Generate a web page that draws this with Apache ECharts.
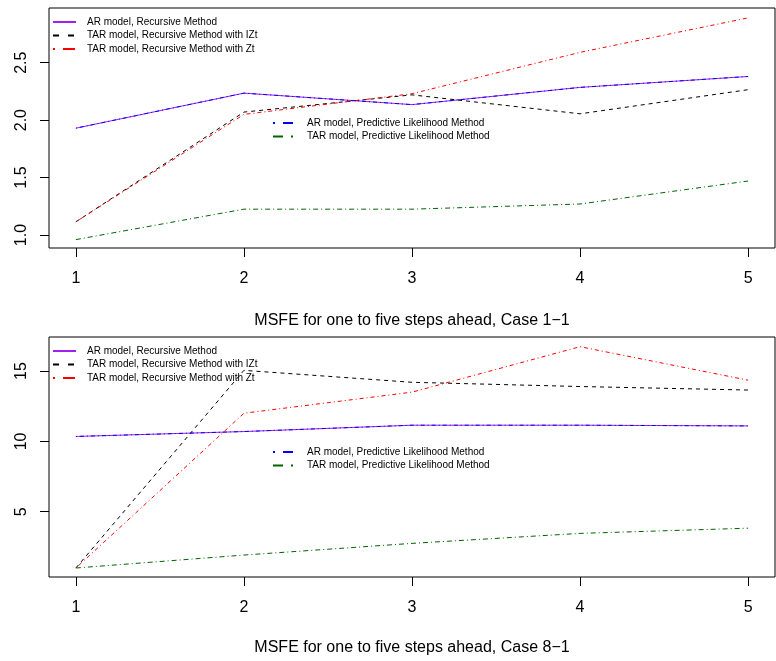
<!DOCTYPE html>
<html>
<head>
<meta charset="utf-8">
<script src="https://cdn.jsdelivr.net/npm/echarts@6/dist/echarts.min.js"></script>
<style>
  html, body { margin: 0; padding: 0; background: #fff; }
  #main { width: 776px; height: 661px; }
</style>
</head>
<body>
<div id="main"></div>
<script>
var FONT = 'Liberation Sans, Arial, sans-serif';

// forecast horizon
var steps = [1, 2, 3, 4, 5];
var stepTicks = [1, 2, 3, 4, 5];

// Case 1-1
var arRec1 = [1.93, 2.235, 2.135, 2.285, 2.38];
var tarIZt1 = [1.115, 2.07, 2.22, 2.055, 2.265];
var tarZt1 = [1.115, 2.05, 2.23, 2.59, 2.89];
var arPred1 = [1.93, 2.235, 2.135, 2.285, 2.38];
var tarPred1 = [0.96, 1.225, 1.225, 1.27, 1.47];
var yTicks1 = [1.0, 1.5, 2.0, 2.5];

// Case 8-1
var arRec2 = [10.35, 10.7, 11.15, 11.15, 11.1];
var tarIZt2 = [1.0, 15.05, 14.2, 13.9, 13.65];
var tarZt2 = [1.0, 12.0, 13.5, 16.73, 14.35];
var arPred2 = [10.35, 10.7, 11.15, 11.15, 11.1];
var tarPred2 = [1.0, 1.92, 2.75, 3.46, 3.83];
var yTicks2 = [5, 10, 15];

var names = [
    'AR model, Recursive Method',
    'TAR model, Recursive Method with IZt',
    'TAR model, Recursive Method with Zt',
    'AR model, Predictive Likelihood Method',
    'TAR model, Predictive Likelihood Method'
];
var colors = ['#A020F0', '#000000', '#FF0000', '#0000FF', '#006400'];
var dashes = ['solid', [4, 4], [1, 3, 4, 3], [1, 3, 4, 3], [5, 3, 1, 3]];
var legendDash = ['solid', [6, 9], [2, 8, 12, 8], [2, 8, 10, 8], [10, 8, 2, 8]];

function pairs(vals) {
    return steps.map(function (s, i) { return [s, vals[i]]; });
}

function makeSeries(idx, sets) {
    return sets.map(function (vals, i) {
        return {
            name: names[i],
            type: 'line',
            xAxisIndex: idx,
            yAxisIndex: idx,
            data: pairs(vals),
            symbol: 'none',
            silent: true,
            lineStyle: { color: colors[i], width: 1, type: dashes[i] },
            itemStyle: { color: colors[i] }
        };
    });
}

function makeLegend(list, left, top) {
    return {
        orient: 'vertical',
        left: left,
        top: top,
        padding: 0,
        itemWidth: 23,
        itemHeight: 10,
        itemGap: 3.5,
        selectedMode: false,
        textStyle: { fontFamily: FONT, fontSize: 10, color: '#000', padding: [0, 0, 0, 6] },
        data: list.map(function (i) {
            return {
                name: names[i],
                itemStyle: { opacity: 0 },
                lineStyle: { color: colors[i], width: 2, type: legendDash[i] }
            };
        })
    };
}

function xAxis(idx) {
    return {
        type: 'value',
        gridIndex: idx,
        min: 0.84,
        max: 5.16,
        splitLine: { show: false },
        axisLine: { show: false },
        axisTick: { show: true, length: 9, customValues: stepTicks, lineStyle: { color: '#000' } },
        axisLabel: { customValues: stepTicks, margin: 23, fontFamily: FONT, fontSize: 16, color: '#000' }
    };
}

function yAxis(idx, min, max, ticks, fmt) {
    return {
        type: 'value',
        gridIndex: idx,
        min: min,
        max: max,
        splitLine: { show: false },
        axisLine: { show: false },
        axisTick: { show: true, length: 9, customValues: ticks, lineStyle: { color: '#000' } },
        axisLabel: {
            customValues: ticks,
            rotate: 90,
            margin: 19,
            fontFamily: FONT,
            fontSize: 16,
            color: '#000',
            formatter: fmt
        }
    };
}

var chart = echarts.init(document.getElementById('main'), null, { renderer: 'canvas' });
chart.setOption({
    backgroundColor: '#fff',
    animation: false,
    grid: [
        { left: 49, top: 8, width: 726, height: 240, show: true, borderColor: '#000', borderWidth: 1 },
        { left: 49, top: 337, width: 726, height: 240, show: true, borderColor: '#000', borderWidth: 1 }
    ],
    title: [
        { text: 'MSFE for one to five steps ahead, Case 1\u22121', left: 412, top: 313, textAlign: 'center',
          textStyle: { fontFamily: FONT, fontSize: 16, fontWeight: 'normal', color: '#000' }, padding: 0 },
        { text: 'MSFE for one to five steps ahead, Case 8\u22121', left: 412, top: 640, textAlign: 'center',
          textStyle: { fontFamily: FONT, fontSize: 16, fontWeight: 'normal', color: '#000' }, padding: 0 }
    ],
    legend: [
        makeLegend([0, 1, 2], 52, 17),
        makeLegend([3, 4], 272, 118),
        makeLegend([0, 1, 2], 52, 346),
        makeLegend([3, 4], 272, 447)
    ],
    xAxis: [xAxis(0), xAxis(1)],
    yAxis: [
        yAxis(0, 0.887, 2.976, yTicks1, function (v) { return v.toFixed(1); }),
        yAxis(1, 0.36, 17.42, yTicks2, function (v) { return String(v); })
    ],
    series: makeSeries(0, [arRec1, tarIZt1, tarZt1, arPred1, tarPred1])
        .concat(makeSeries(1, [arRec2, tarIZt2, tarZt2, arPred2, tarPred2]))
});
</script>
</body>
</html>
